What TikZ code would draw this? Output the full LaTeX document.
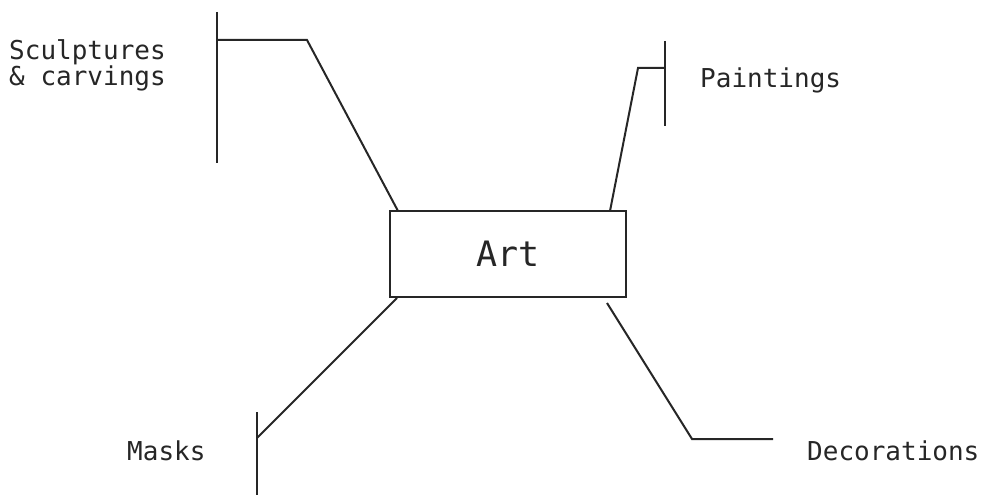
\documentclass[tikz,border=0pt]{standalone}
\usepackage{fontspec}
\setmonofont{DejaVu Sans Mono}
\begin{document}
\begin{tikzpicture}[x=1pt,y=-1pt,
  line/.style={line width=2pt, black!85},
  lbl/.style={font=\ttfamily\fontsize{26}{24}\selectfont, inner sep=0pt, align=left, text=black!85},
  artbox/.style={draw, line width=2pt, black!85, minimum width=236pt, minimum height=86pt, inner sep=0pt, font=\ttfamily\fontsize{35}{36}\selectfont}]
\useasboundingbox (0,0) rectangle (984,497);
\node[artbox] (art) at (508,254) {Art};
% Sculptures
\coordinate (s1) at (217,12);
\coordinate (s2) at (217,163);
\coordinate (sj) at (217,40);
\coordinate (sk) at (307,40);
\coordinate (sa) at (398,211);
\draw[line] (s1) -- (s2);
\draw[line] (sj) -- (sk) -- (sa);
\node[lbl, anchor=west] (sculp) at (9,65) {Sculptures\\\& carvings};
% Paintings
\coordinate (p1) at (665,41);
\coordinate (p2) at (665,126);
\coordinate (pj) at (665,68);
\coordinate (pk) at (638,68);
\coordinate (pa) at (610,211);
\draw[line] (p1) -- (p2);
\draw[line] (pj) -- (pk) -- (pa);
\node[lbl, anchor=west] (paint) at (700,80) {Paintings};
% Masks
\coordinate (m1) at (257,412);
\coordinate (m2) at (257,495);
\coordinate (mj) at (257,438);
\coordinate (ma) at (397,298);
\draw[line] (m1) -- (m2);
\draw[line] (ma) -- (mj);
\node[lbl, anchor=west] (masks) at (127,451) {Masks};
% Decorations
\coordinate (da) at (607,303);
\coordinate (dk) at (692,439);
\coordinate (dj) at (773,439);
\draw[line] (da) -- (dk) -- (dj);
\node[lbl, anchor=west] (deco) at (807,451) {Decorations};
\end{tikzpicture}
\end{document}
